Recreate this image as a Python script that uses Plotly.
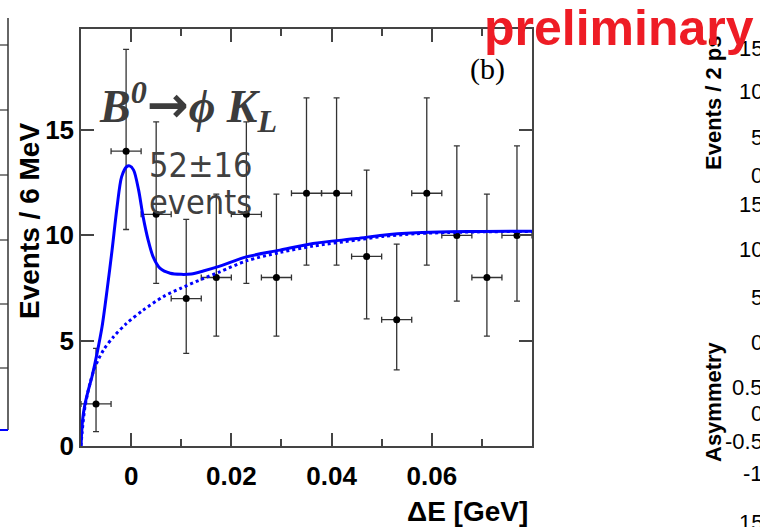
import plotly.graph_objects as go

# ---------------- data ----------------
dE_centers = [-0.007, -0.001, 0.005, 0.011, 0.017, 0.023, 0.029, 0.035,
              0.041, 0.047, 0.053, 0.059, 0.065, 0.071, 0.077]
events = [2, 14, 11, 7, 8, 11, 8, 12, 12, 9, 6, 12, 10, 8, 10]
err_up = [2.64, 4.83, 4.39, 3.76, 3.96, 4.39, 3.96, 4.53, 4.53, 4.10, 3.59, 4.53, 4.25, 3.96, 4.25]
err_lo = [1.32, 3.72, 3.28, 2.60, 2.78, 3.28, 2.78, 3.41, 3.41, 2.96, 2.39, 3.41, 3.12, 2.78, 3.12]
bin_half = [0.003] * 15

fit_x = [-0.0100, -0.0097, -0.0092, -0.0086, -0.0078, -0.0068, -0.0058, -0.0048,
         -0.0038, -0.0028, -0.0019, -0.0009, -0.0003, 0.0005, 0.0015, 0.0024,
         0.0034, 0.0044, 0.0058, 0.0078, 0.0100, 0.0120, 0.0144, 0.0177, 0.0230,
         0.0297, 0.0363, 0.0450, 0.0502, 0.0569, 0.0635, 0.0701, 0.0800]
fit_y = [0.0, 1.2, 2.0, 2.6, 3.3, 4.4, 5.66, 7.40,
         9.30, 11.36, 12.78, 13.26, 13.30, 13.10, 12.15, 10.88,
         9.78, 8.98, 8.43, 8.20, 8.15, 8.17, 8.31, 8.54, 8.98,
         9.30, 9.62, 9.85, 10.01, 10.12, 10.17, 10.19, 10.20]

bkg_x = [-0.0100, -0.0098, -0.0092, -0.0082, -0.0072, -0.0055, -0.0035, -0.0009,
         0.0024, 0.0064, 0.0100, 0.0137, 0.0177, 0.0230, 0.0297, 0.0363, 0.0450,
         0.0502, 0.0569, 0.0635, 0.0701, 0.0800]
bkg_y = [0.0, 0.6, 1.87, 2.98, 3.76, 4.56, 5.19, 5.82,
         6.45, 7.09, 7.50, 7.88, 8.27, 8.79, 9.19, 9.49, 9.78,
         9.95, 10.08, 10.14, 10.17, 10.19]

x_tickvals = [0, 0.02, 0.04, 0.06]
x_ticktext = ["0", "0.02", "0.04", "0.06"]
x_minor = [0.01, 0.03, 0.05, 0.07]
y_tickvals = [0, 5, 10, 15]

right_ticks = [("15", 48), ("10", 92), ("5", 137), ("0", 175), ("15", 204), ("10", 249),
               ("5", 297), ("0", 342), ("0.5", 387), ("0", 413), ("-0.5", 441), ("-1", 473),
               ("15", 522)]
left_panel_ticks = [45, 110, 175, 240, 304, 368]

# ---------------- layout geometry ----------------
W, H = 760, 527
L, R, T, B = 81, 532, 29, 446


def px(x):
    return (x - L) / (R - L)


def py(y):
    return (B - y) / (B - T)


AX = "#444444"
fig = go.Figure()

fig.add_trace(go.Scatter(
    x=dE_centers, y=events, mode="markers",
    marker=dict(color="black", size=7),
    error_y=dict(type="data", symmetric=False, array=err_up, arrayminus=err_lo,
                 color="#333333", thickness=1.3, width=3),
    error_x=dict(type="data", array=bin_half, color="#333333", thickness=1.3, width=3),
    hoverinfo="skip"))

fig.add_trace(go.Scatter(x=bkg_x, y=bkg_y, mode="lines",
                         line=dict(color="#0000ff", width=3, dash="dot",
                                   shape="spline", smoothing=0.8)))
fig.add_trace(go.Scatter(x=fit_x, y=fit_y, mode="lines",
                         line=dict(color="#0000ff", width=3,
                                   shape="spline", smoothing=0.8)))

tickfont = dict(family="Liberation Sans", size=26, color="black", weight="bold")
fig.update_xaxes(range=[-0.01, 0.08], tickvals=x_tickvals, ticktext=x_ticktext,
                 ticks="inside", ticklen=13, tickwidth=1.5, tickcolor=AX,
                 showline=True, linecolor=AX, linewidth=1.5, mirror="ticks",
                 showgrid=False, zeroline=False, tickfont=tickfont,
                 ticklabelstandoff=6,
                 minor=dict(tickvals=x_minor, ticks="inside", ticklen=7,
                            tickwidth=1.5, tickcolor=AX, showgrid=False))
fig.update_yaxes(range=[0, 19.8], tickvals=y_tickvals,
                 ticks="inside", ticklen=13, tickwidth=1.5, tickcolor=AX,
                 showline=True, linecolor=AX, linewidth=1.5, mirror="ticks",
                 showgrid=False, zeroline=False, tickfont=tickfont)

ann = []
# axis titles
ann.append(dict(text="Events / 6 MeV", x=px(29), y=py(221), textangle=-90,
                font=dict(family="Liberation Sans", size=28, color="black", weight="bold")))
ann.append(dict(text="ΔE [GeV]", x=px(530), y=py(512), xanchor="right",
                font=dict(family="Liberation Sans", size=28, color="black", weight="bold")))
# decay label
ann.append(dict(text="<b><i>B<sup>0</sup></i></b>"
                     "<span style='font-family:DejaVu Sans;font-weight:bold;font-size:50px'>→</span>"
                     "<b><i>ϕ K<sub>L</sub></i></b>",
                x=px(97), y=py(107),
                xanchor="left", font=dict(family="Liberation Serif", size=46, color="#3c3c3c")))
ann.append(dict(text="52±16", x=px(147), y=py(165), xanchor="left",
                font=dict(family="DejaVu Sans Condensed, DejaVu Sans", size=34, color="#404040")))
ann.append(dict(text="events", x=px(147), y=py(202), xanchor="left",
                font=dict(family="DejaVu Sans Condensed, DejaVu Sans", size=34, color="#404040")))
ann.append(dict(text="(b)", x=px(487), y=py(69),
                font=dict(family="Liberation Serif", size=30, color="black")))
# neighbouring panel fragments (right)
ann.append(dict(text="Events / 2 ps", x=px(713), y=py(103), textangle=-90,
                font=dict(family="Liberation Sans", size=22, color="black", weight="bold")))
ann.append(dict(text="Asymmetry", x=px(713), y=py(402), textangle=-90,
                font=dict(family="Liberation Sans", size=22, color="black", weight="bold")))
for lab, yy in right_ticks:
    ann.append(dict(text=lab, x=px(765), y=py(yy), xanchor="right",
                    font=dict(family="Liberation Sans", size=22, color="black")))
# preliminary stamp
ann.append(dict(text="<b>preliminary</b>", x=px(482), y=py(28), xanchor="left",
                font=dict(family="Liberation Sans", size=50, color="#ee1c25")))

for a in ann:
    a.update(xref="paper", yref="paper", showarrow=False)
    a.setdefault("xanchor", "center")
    a.setdefault("yanchor", "middle")

shapes = [dict(type="line", xref="paper", yref="paper", x0=px(8), x1=px(8),
               y0=py(18), y1=py(430), line=dict(color="#333333", width=1.5))]
for ty in left_panel_ticks:
    shapes.append(dict(type="line", xref="paper", yref="paper", x0=px(0), x1=px(8),
                       y0=py(ty), y1=py(ty), line=dict(color="#333333", width=1.2)))
shapes.append(dict(type="line", xref="paper", yref="paper", x0=px(0), x1=px(8),
                   y0=py(430), y1=py(430), line=dict(color="#0000ff", width=2)))

fig.update_layout(width=W, height=H, showlegend=False,
                  margin=dict(l=L, r=W - R, t=T, b=H - B, pad=0),
                  plot_bgcolor="white", paper_bgcolor="white",
                  annotations=ann, shapes=shapes)

fig.write_html("out.html")
